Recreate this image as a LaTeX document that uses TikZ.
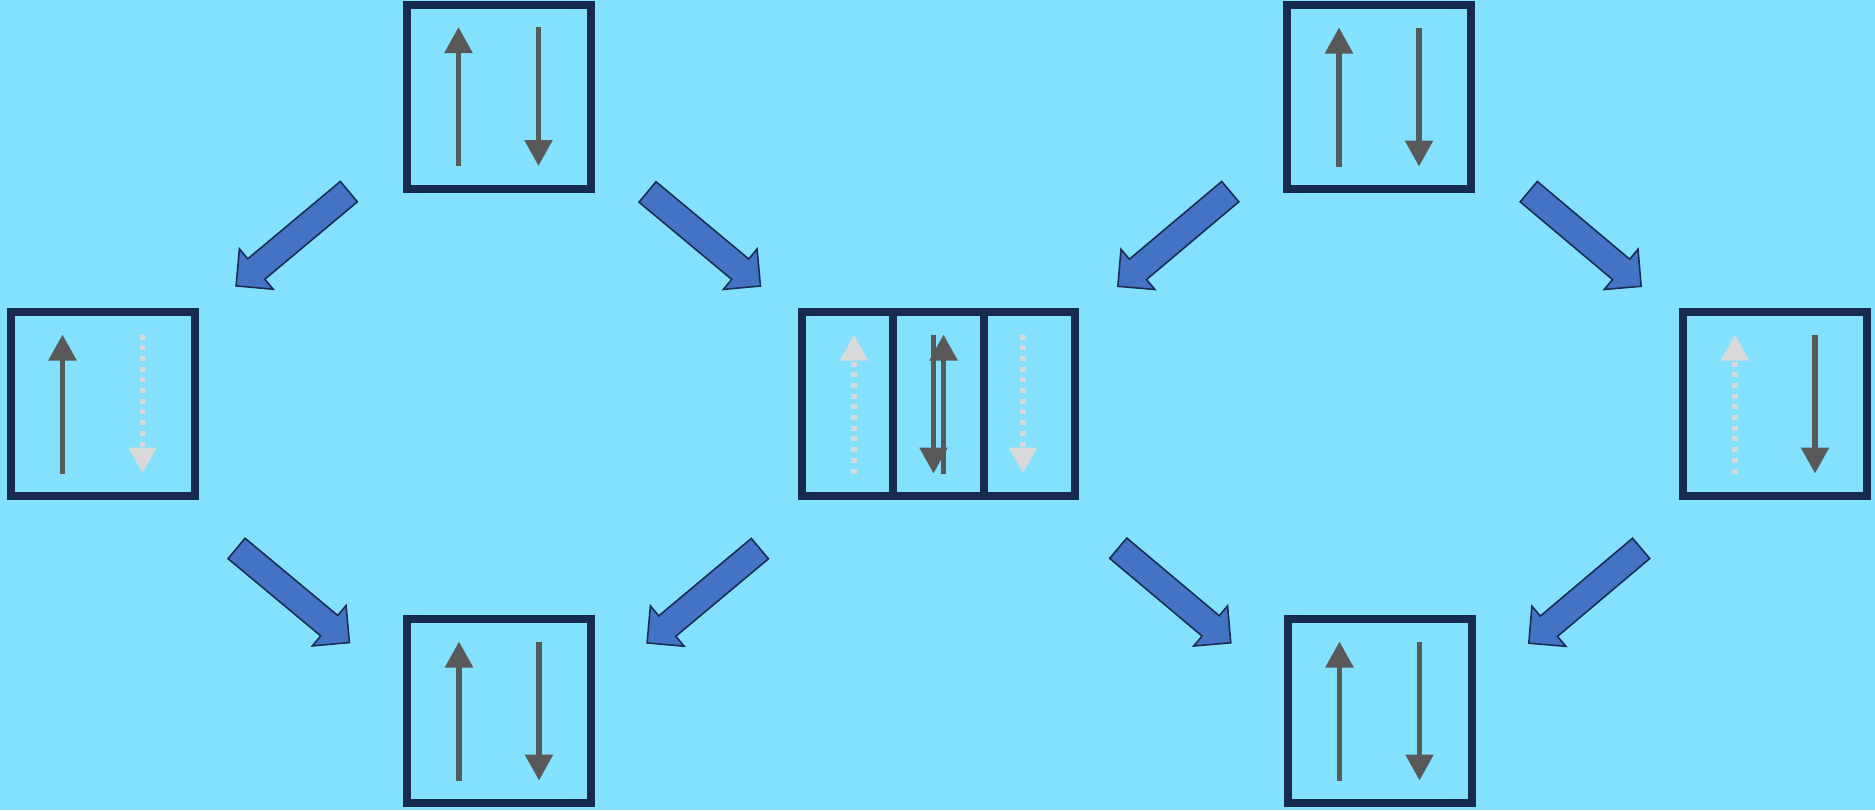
\documentclass[tikz,border=0pt]{standalone}
\usepackage{tikz}
\usetikzlibrary{arrows.meta,shapes.arrows,calc}
\definecolor{bgsky}{HTML}{83E1FD}
\definecolor{boxnavy}{HTML}{172B50}
\definecolor{flowblue}{HTML}{4472C4}
\definecolor{flowedge}{HTML}{1B2D55}
\definecolor{spingray}{HTML}{595959}
\definecolor{spinghost}{HTML}{D9D9D9}
\tikzset{
  cell/.style={draw=boxnavy,line width=4pt,minimum width=92pt,minimum height=92pt,inner sep=0pt},
  thin cell/.style={cell,minimum width=45.5pt},
  spin/.style={spingray,line width=2.75pt,-{Triangle[length=13pt,width=13.5pt]}},
  ghost/.style={spinghost,line width=2.75pt,dash pattern=on 2.5pt off 2.85pt,-{Triangle[length=13pt,width=13.5pt]}},
  flow/.style={single arrow,draw=flowedge,fill=flowblue,line width=0.8pt,
    minimum width=0pt,minimum height=73.5pt,inner xsep=0pt,inner ysep=6.25pt,
    single arrow head extend=6.5pt,single arrow tip angle=90,pos=0.455,sloped,allow upside down}
}
% up arrow on the left, down arrow on the right of a box
\newcommand{\spinpair}[3]{%
  \draw[#2] ($(#1)+(-40,69.5)$) -- ($(#1)+(-40,-69.5)$);
  \draw[#3] ($(#1)+(40,-69.5)$) -- ($(#1)+(40,69.5)$);
}

\begin{document}
\begin{tikzpicture}[x=0.5pt,y=-0.5pt]
    \useasboundingbox (0,0) rectangle (1875,810);
    \fill[bgsky] (0,0) rectangle (1875,810);
    % boxes
    \node[cell] (tl) at (498.5,96.5) {};
    \node[cell] (lt) at (102.5,404) {};
    \node[cell] (bl) at (499,711) {};
    \node[thin cell] (m1) at (847.5,404) {};
    \node[thin cell] (m2) at (938.5,404) {};
    \node[thin cell] (m3) at (1029.5,404) {};
    \node[cell] (tr) at (1379,97) {};
    \node[cell] (rt) at (1775,404) {};
    \node[cell] (br) at (1379.5,711) {};
    % spins
    \spinpair{tl}{spin}{spin}
    \spinpair{lt}{spin}{ghost}
    \spinpair{bl}{spin}{spin}
    \spinpair{tr}{spin}{spin}
    \spinpair{rt}{ghost}{spin}
    \spinpair{br}{spin}{spin}
    \draw[ghost] ($(m1)+(6.5,69.5)$) -- ($(m1)+(6.5,-69.5)$);
    \draw[spin] ($(m2)+(-5,-69.5)$) -- ($(m2)+(-5,69.5)$);
    \draw[spin] ($(m2)+(5,69.5)$) -- ($(m2)+(5,-69.5)$);
    \draw[ghost] ($(m3)+(-6.5,-69.5)$) -- ($(m3)+(-6.5,69.5)$);
    % block arrows
    \path (349,191.5) coordinate (f1s) -- node[flow] (f1) {} (236,286) coordinate (f1e);
    \path (647,191.5) coordinate (f2s) -- node[flow] (f2) {} (761,286.5) coordinate (f2e);
    \path (236,548) coordinate (f3s) -- node[flow] (f3) {} (350,643) coordinate (f3e);
    \path (760,548.5) coordinate (f4s) -- node[flow] (f4) {} (647,643) coordinate (f4e);
    \path (1231,191) coordinate (f5s) -- node[flow] (f5) {} (1117,287) coordinate (f5e);
    \path (1528,191) coordinate (f6s) -- node[flow] (f6) {} (1642,287) coordinate (f6e);
    \path (1118,548) coordinate (f7s) -- node[flow] (f7) {} (1231,643) coordinate (f7e);
    \path (1641,548.5) coordinate (f8s) -- node[flow] (f8) {} (1529,643) coordinate (f8e);
  \end{tikzpicture}
\end{document}
